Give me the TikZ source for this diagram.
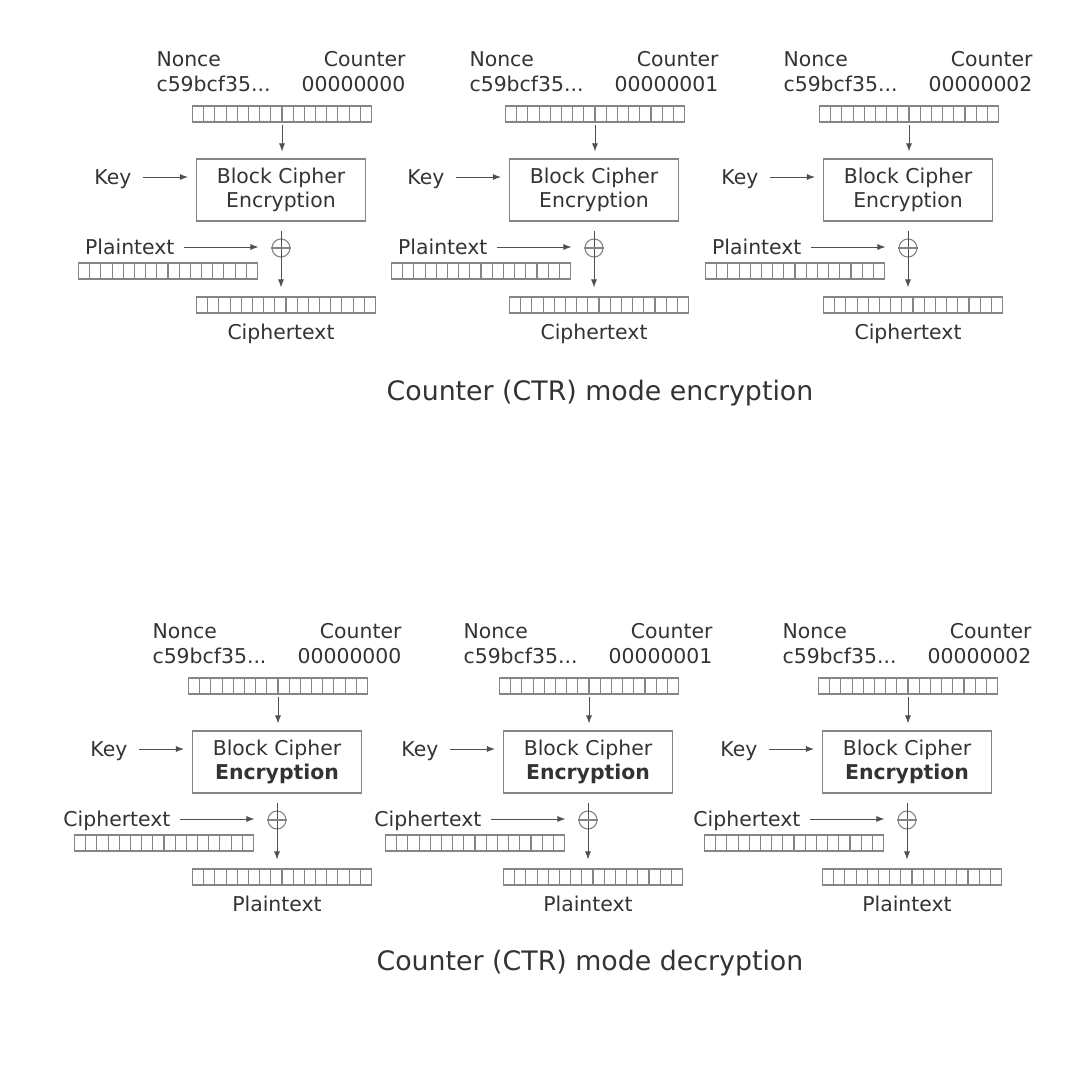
\documentclass[tikz,border=0pt]{standalone}
\usepackage{fontspec}
\setmainfont{DejaVu Sans}
\usetikzlibrary{arrows.meta}

\definecolor{ink}{HTML}{333333}
\definecolor{wire}{HTML}{858585}
\definecolor{lead}{HTML}{505050}

\tikzset{
  lbl/.style={text=ink, inner sep=0pt, text height=7.4pt, text depth=0pt},
  blockbox/.style={draw=wire, text=ink, align=center, inner sep=0pt,
    minimum width=84.5pt, minimum height=31pt},
  cellbar/.style={draw=wire, inner sep=0pt, minimum width=89.5pt, minimum height=8pt,
    path picture={
      \foreach \k in {1,...,15}
        \draw[wire] ([xshift=\k*5.594pt]path picture bounding box.south west)
          -- ([xshift=\k*5.594pt]path picture bounding box.north west);
    }},
  xorsign/.style={draw=wire, circle, inner sep=0pt, minimum size=9pt},
  feed/.style={draw=lead, line width=0.45pt, ->}
}

\begin{document}
\begin{tikzpicture}[x=0.5pt, y=-0.5pt, line width=0.55pt,
    font=\fontsize{10.2}{12}\selectfont, >={Latex[length=4pt,width=3pt]}]
  \useasboundingbox (0,0) rectangle (1086,1072);

  \foreach \s/\cx/\cy/\num/\inp/\outp/\enc in {
      e1/281/190/00000000/Plaintext/Ciphertext/Encryption,
      e2/594/190/00000001/Plaintext/Ciphertext/Encryption,
      e3/908/190/00000002/Plaintext/Ciphertext/Encryption,
      d1/277/762/00000000/Ciphertext/Plaintext/{\textbf{Encryption}},
      d2/588/762/00000001/Ciphertext/Plaintext/{\textbf{Encryption}},
      d3/907/762/00000002/Ciphertext/Plaintext/{\textbf{Encryption}}}
  {
    \node[lbl, anchor=west] (nonce-\s) at (\cx-125,\cy-131) {Nonce};
    \node[lbl, anchor=east] (ctr-\s) at (\cx+125,\cy-131) {Counter};
    \node[lbl, anchor=west] (nval-\s) at (\cx-125,\cy-106) {c59bcf35...};
    \node[lbl, anchor=east] (cval-\s) at (\cx+125,\cy-106) {\num};
    \node[cellbar] (nbar-\s) at (\cx+1,\cy-76) {};

    \node[blockbox] (box-\s) at (\cx,\cy) {Block Cipher\\\enc};
    \node[lbl, anchor=east] (key-\s) at (\cx-149,\cy-13) {Key};

    \node[xorsign] (xor-\s) at (\cx,\cy+58) {};
    \node[lbl, anchor=east] (in-\s) at (\cx-106,\cy+57) {\inp};
    \node[cellbar] (ibar-\s) at (\cx-113,\cy+81) {};
    \node[cellbar] (obar-\s) at (\cx+5,\cy+115) {};
    \node[lbl] (out-\s) at (\cx,\cy+142) {\outp};

    \draw[feed, shorten <=1pt, shorten >=3.5pt] (nbar-\s.south) -- (nbar-\s.south |- box-\s.north);
    \draw[feed, shorten <=5.5pt, shorten >=4pt] (key-\s.east) -- (key-\s.east -| box-\s.west);
    \draw[feed, shorten <=4.5pt, shorten >=6.5pt] (in-\s.east) -- (in-\s.east -| xor-\s.west);
    \draw[feed, shorten <=4.5pt, shorten >=4.5pt] (box-\s.south) -- (box-\s.south |- obar-\s.north);
    \draw[wire] (xor-\s.west) -- (xor-\s.east);
  }

  \node[text=ink, font=\fontsize{13.4}{16}\selectfont] (enc-title) at (600,393) {Counter (CTR) mode encryption};
  \node[text=ink, font=\fontsize{13.4}{16}\selectfont] (dec-title) at (590,963) {Counter (CTR) mode decryption};
\end{tikzpicture}
\end{document}
